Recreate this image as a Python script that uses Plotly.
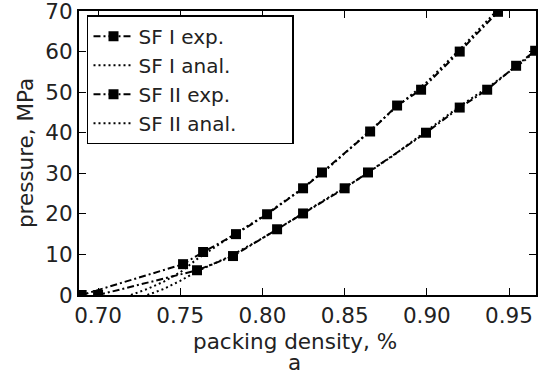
import plotly.graph_objects as go

# SF I experimental
sf1_exp_x = [0.690, 0.7517, 0.7639, 0.7839, 0.8028, 0.8247, 0.8362, 0.8655, 0.8819, 0.8965, 0.920, 0.9433]
sf1_exp_y = [0.0, 7.6, 10.6, 15.0, 19.9, 26.3, 30.2, 40.3, 46.7, 50.6, 60.0, 69.8]
# SF I analytical
sf1_an_x = [0.720, 0.730, 0.740, 0.750, 0.760, 0.780, 0.800, 0.820, 0.840, 0.860, 0.880, 0.900, 0.920, 0.940, 0.946]
sf1_an_y = [0.0, 1.5, 3.3, 5.6, 8.8, 14.2, 19.3, 25.0, 31.3, 38.5, 45.8, 52.5, 60.5, 69.0, 71.5]
# SF II experimental
sf2_exp_x = [0.700, 0.7602, 0.7821, 0.8089, 0.8247, 0.850, 0.8642, 0.8995, 0.920, 0.9367, 0.9543, 0.9659]
sf2_exp_y = [0.0, 6.1, 9.6, 16.2, 20.1, 26.3, 30.2, 40.0, 46.2, 50.6, 56.5, 60.2]
# SF II analytical
sf2_an_x = [0.730, 0.740, 0.750, 0.760, 0.780, 0.800, 0.820, 0.840, 0.860, 0.880, 0.900, 0.920, 0.940, 0.960, 0.970]
sf2_an_y = [0.0, 1.5, 3.5, 5.8, 9.5, 14.0, 19.0, 24.0, 29.0, 34.5, 40.5, 46.5, 52.0, 58.0, 61.5]

series_names = ["SF I exp.", "SF I anal.", "SF II exp.", "SF II anal."]

x_range = [0.6884, 0.9664]
y_range = [0, 70]

FONT = "DejaVu Sans"
TXT = "#222222"
FS = 21.5
dashdot = "7px,3px,2px,3px"
dotted = "2px,3px"
PAD = "\u00a0" * 8 + "\u200d"

fig = go.Figure()
fig.add_trace(go.Scatter(x=sf1_exp_x, y=sf1_exp_y, mode="lines+markers", name=series_names[0] + PAD,
                         line=dict(color="black", width=2, dash=dashdot),
                         marker=dict(symbol="square", size=10, color="black")))
fig.add_trace(go.Scatter(x=sf1_an_x, y=sf1_an_y, mode="lines", name=series_names[1] + PAD,
                         line=dict(color="black", width=2, dash=dotted)))
fig.add_trace(go.Scatter(x=sf2_exp_x, y=sf2_exp_y, mode="lines+markers", name=series_names[2] + PAD,
                         line=dict(color="black", width=2, dash=dashdot),
                         marker=dict(symbol="square", size=10, color="black")))
fig.add_trace(go.Scatter(x=sf2_an_x, y=sf2_an_y, mode="lines", name=series_names[3] + PAD,
                         line=dict(color="black", width=2, dash=dotted)))

axis_common = dict(showline=True, linecolor="black", linewidth=2, mirror="ticks",
                   ticks="inside", ticklen=7, tickwidth=1, tickcolor="black",
                   showgrid=False, zeroline=False, ticklabeloverflow="allow",
                   automargin=False,
                   tickfont=dict(family=FONT, size=FS, color=TXT))

fig.update_xaxes(range=x_range, tick0=0.70, dtick=0.05, tickformat=".2f", **axis_common)
fig.update_yaxes(range=y_range, tick0=0, dtick=10, **axis_common)

fig.update_layout(
    width=545, height=374,
    margin=dict(l=79, r=9, t=11, b=79, autoexpand=False),
    paper_bgcolor="white", plot_bgcolor="white",
    font=dict(family=FONT, size=FS, color=TXT),
    showlegend=True,
    legend=dict(x=0.0175, y=0.985, xanchor="left", yanchor="top",
                bordercolor="black", borderwidth=1.5, bgcolor="white",
                font=dict(family=FONT, size=20, color=TXT),
                itemwidth=40, tracegroupgap=0),
    annotations=[
        dict(text="packing density, %", xref="paper", yref="paper", x=0.4726, y=-0.162,
             xanchor="center", yanchor="middle", showarrow=False,
             font=dict(family=FONT, size=FS, color=TXT)),
        dict(text="a", xref="paper", yref="paper", x=0.4726, y=-0.237,
             xanchor="center", yanchor="middle", showarrow=False,
             font=dict(family=FONT, size=FS, color=TXT)),
        dict(text="pressure, MPa", xref="paper", yref="paper", x=-0.118, y=0.5,
             xanchor="center", yanchor="middle", textangle=-90, showarrow=False,
             font=dict(family=FONT, size=FS, color=TXT)),
    ],
)

fig.write_html("out.html")
